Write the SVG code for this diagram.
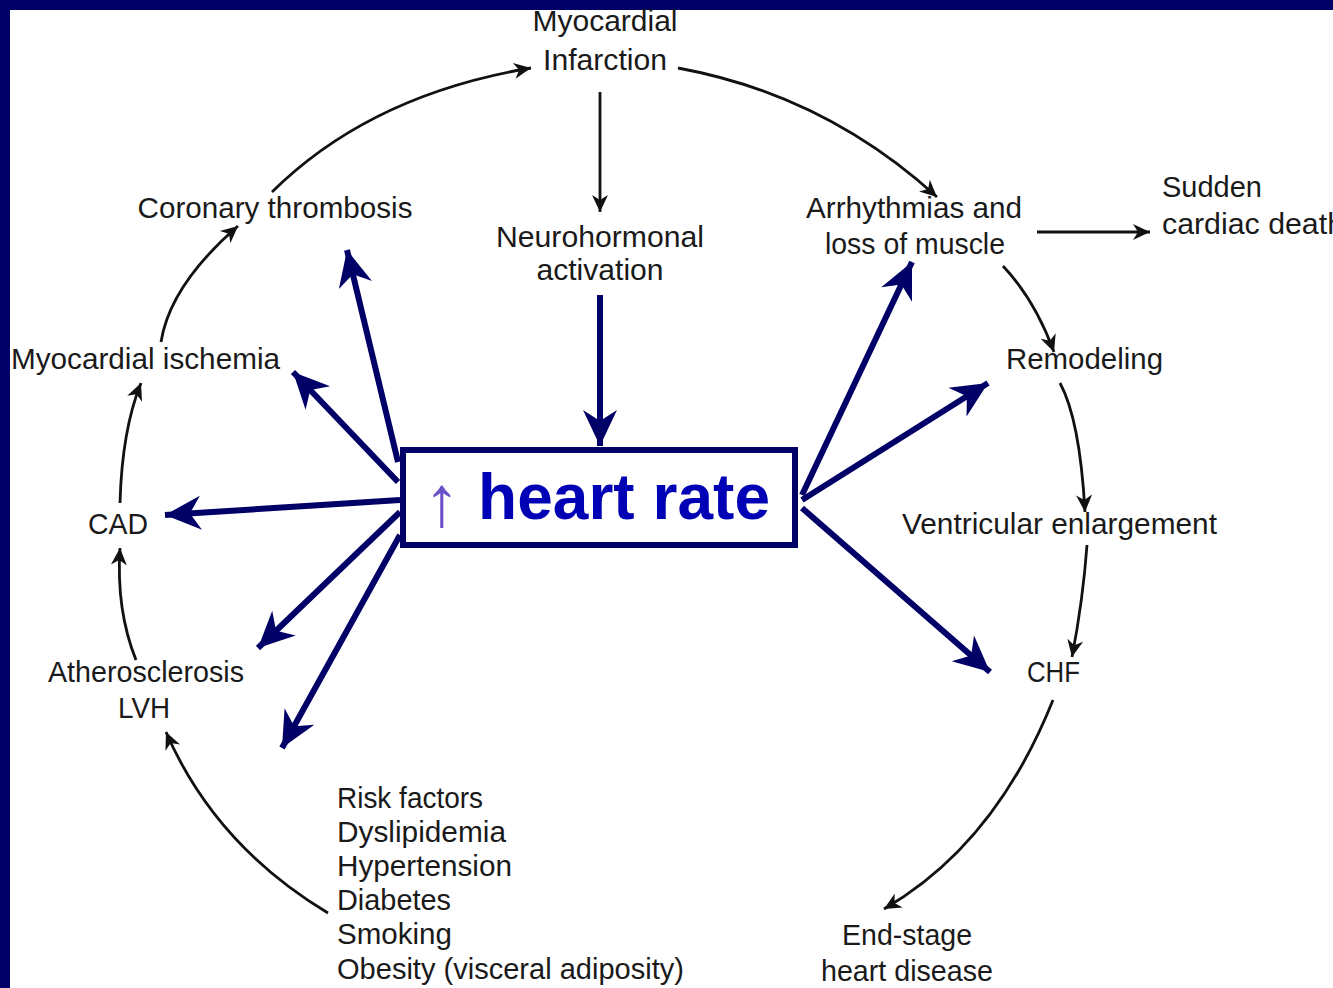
<svg xmlns="http://www.w3.org/2000/svg" width="1333" height="988" viewBox="0 0 1333 988">
<style>
.t{font-family:"Liberation Sans",Arial,sans-serif;font-size:30px;fill:#1a1a1a}
.c{text-anchor:middle}
.blk{fill:none;stroke:#111;stroke-width:2.8}
.blu{fill:none;stroke:#000066;stroke-width:6}
</style>
<defs>
<marker id="hb" markerUnits="userSpaceOnUse" viewBox="-40 -20 42 40" refX="0" refY="0" markerWidth="42" markerHeight="40" orient="auto">
<path d="M0,0 L-36,-17 L-25,0 L-36,17 Z" fill="#000066"/>
</marker>
<marker id="hk" markerUnits="userSpaceOnUse" viewBox="-18 -9 20 18" refX="0" refY="0" markerWidth="20" markerHeight="18" orient="auto">
<path d="M0,0 L-17,-8 L-12,0 L-17,8 Z" fill="#111"/>
</marker>
</defs>
<rect x="0" y="0" width="1333" height="988" fill="#000066"/>
<rect x="10" y="10" width="1323" height="978" fill="#ffffff"/>

<g id="connectors">
<path class="blk" d="M272,192 Q370,95 531,68" marker-end="url(#hk)"/>
<path class="blk" d="M678,68 Q825,95 937,197" marker-end="url(#hk)"/>
<path class="blk" d="M600,92 L600,212" stroke="#333" marker-end="url(#hk)"/>
<path class="blk" d="M1037,232 L1150,232" marker-end="url(#hk)"/>
<path class="blk" d="M1003,266 Q1035,300 1054,352" marker-end="url(#hk)"/>
<path class="blk" d="M1060,383 Q1080,420 1085,512" marker-end="url(#hk)"/>
<path class="blk" d="M1087,545 Q1083,600 1072,657" marker-end="url(#hk)"/>
<path class="blk" d="M1053,700 Q995,845 884,909" marker-end="url(#hk)"/>
<path class="blk" d="M328,913 Q215,845 166,732" marker-end="url(#hk)"/>
<path class="blk" d="M136,660 Q116,610 120,548" marker-end="url(#hk)"/>
<path class="blk" d="M120,503 Q122,430 141,383" marker-end="url(#hk)"/>
<path class="blk" d="M161,342 Q170,285 238,226" marker-end="url(#hk)"/>

<path class="blu" d="M600,295 L600,446" marker-end="url(#hb)"/>
<path class="blu" d="M398,462 L347,250" marker-end="url(#hb)"/>
<path class="blu" d="M398,482 L293,372" marker-end="url(#hb)"/>
<path class="blu" d="M400,500 L165,515" marker-end="url(#hb)"/>
<path class="blu" d="M400,512 L258,648" marker-end="url(#hb)"/>
<path class="blu" d="M400,535 L282,748" marker-end="url(#hb)"/>
<path class="blu" d="M802,495 L912,262" marker-end="url(#hb)"/>
<path class="blu" d="M802,500 L988,383" marker-end="url(#hb)"/>
<path class="blu" d="M802,508 L990,672" marker-end="url(#hb)"/>
</g>

<g id="heart-rate">
<rect x="403" y="450" width="392" height="95" fill="#ffffff" stroke="#000066" stroke-width="6"/>
<text x="424" y="526" font-family="Liberation Sans,Arial,sans-serif" font-size="72" fill="#6a4fc8">↑</text>
<text x="478" y="519" font-family="Liberation Sans,Arial,sans-serif" font-size="64" font-weight="bold" fill="#0000b4" textLength="292">heart rate</text>
</g>

<g id="myocardial-infarction">
<text class="t c" x="605" y="31" textLength="145" lengthAdjust="spacingAndGlyphs">Myocardial</text>
<text class="t c" x="605" y="70" textLength="124" lengthAdjust="spacingAndGlyphs">Infarction</text>
</g>
<g id="coronary-thrombosis"><text class="t c" x="275" y="218" textLength="275" lengthAdjust="spacingAndGlyphs">Coronary thrombosis</text></g>
<g id="neurohormonal">
<text class="t c" x="600" y="247" textLength="208" lengthAdjust="spacingAndGlyphs">Neurohormonal</text>
<text class="t c" x="600" y="280" textLength="127" lengthAdjust="spacingAndGlyphs">activation</text>
</g>
<g id="arrhythmias">
<text class="t c" x="914" y="218" textLength="216" lengthAdjust="spacingAndGlyphs">Arrhythmias and</text>
<text class="t c" x="915" y="254" textLength="180" lengthAdjust="spacingAndGlyphs">loss of muscle</text>
</g>
<g id="sudden-death">
<text class="t" x="1162" y="197" textLength="100" lengthAdjust="spacingAndGlyphs">Sudden</text>
<text class="t" x="1162" y="234" textLength="182" lengthAdjust="spacingAndGlyphs">cardiac death</text>
</g>
<g id="myocardial-ischemia"><text class="t" x="11" y="369" textLength="269" lengthAdjust="spacingAndGlyphs">Myocardial ischemia</text></g>
<g id="remodeling"><text class="t" x="1006" y="369" textLength="157" lengthAdjust="spacingAndGlyphs">Remodeling</text></g>
<g id="cad"><text class="t" x="88" y="534" textLength="60" lengthAdjust="spacingAndGlyphs">CAD</text></g>
<g id="ventricular"><text class="t" x="902" y="534" textLength="315" lengthAdjust="spacingAndGlyphs">Ventricular enlargement</text></g>
<g id="atherosclerosis">
<text class="t c" x="146" y="682" textLength="196" lengthAdjust="spacingAndGlyphs">Atherosclerosis</text>
<text class="t c" x="144" y="718" textLength="52" lengthAdjust="spacingAndGlyphs">LVH</text>
</g>
<g id="chf"><text class="t" x="1027" y="682" textLength="53" lengthAdjust="spacingAndGlyphs">CHF</text></g>
<g id="risk-factors">
<text class="t" x="337" y="808" textLength="146" lengthAdjust="spacingAndGlyphs">Risk factors</text>
<text class="t" x="337" y="842" textLength="169" lengthAdjust="spacingAndGlyphs">Dyslipidemia</text>
<text class="t" x="337" y="876" textLength="175" lengthAdjust="spacingAndGlyphs">Hypertension</text>
<text class="t" x="337" y="910" textLength="114" lengthAdjust="spacingAndGlyphs">Diabetes</text>
<text class="t" x="337" y="944" textLength="115" lengthAdjust="spacingAndGlyphs">Smoking</text>
<text class="t" x="337" y="979" textLength="347" lengthAdjust="spacingAndGlyphs">Obesity (visceral adiposity)</text>
</g>
<g id="end-stage">
<text class="t c" x="907" y="945" textLength="130" lengthAdjust="spacingAndGlyphs">End-stage</text>
<text class="t c" x="907" y="981" textLength="172" lengthAdjust="spacingAndGlyphs">heart disease</text>
</g>
</svg>
